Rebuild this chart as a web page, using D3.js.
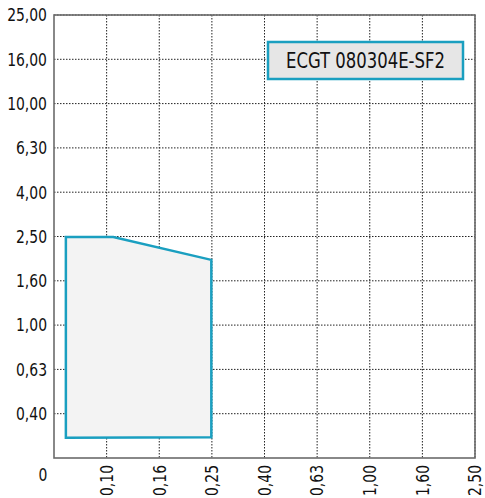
<!DOCTYPE html>
<html><head><meta charset="utf-8">
<script src="https://cdn.jsdelivr.net/npm/d3@7"></script>
<style>html,body{margin:0;padding:0;background:#fff;}svg{display:block;}</style>
</head><body>
<script>
// Data
const xTicks = [0.10, 0.16, 0.25, 0.40, 0.63, 1.00, 1.60, 2.50];
const yTicks = [0.40, 0.63, 1.00, 1.60, 2.50, 4.00, 6.30, 10.00, 16.00, 25.00];
const originLabel = "0";
const regionX = [0.07, 0.106, 0.25, 0.25, 0.07];
const regionY = [2.5, 2.5, 1.97, 0.312, 0.31];
const legendLabel = "ECGT 080304E-SF2";

const W = 485, H = 498;
const m = {left: 54, right: 10, top: 15, bottom: 40};
const svg = d3.select("body").append("svg").attr("width", W).attr("height", H);
const font = "'Liberation Sans Narrow','DejaVu Sans Condensed','Roboto Condensed',sans-serif";

const x = d3.scaleLog().domain([Math.pow(10,-1.2), Math.pow(10,0.4)]).range([m.left, W - m.right]);
const y = d3.scaleLog().domain([Math.pow(10,-0.6), Math.pow(10,1.4)]).range([H - m.bottom, m.top]);
const fmt = v => v.toFixed(2).replace(".", ",");
// snap ticks to nominal log positions (R10 series)
const xp = v => x(Math.pow(10, Math.round(Math.log10(v) * 5) / 5));
const yp = v => y(Math.pow(10, Math.round(Math.log10(v) * 5) / 5));
const squeeze = function() {
  const n = this.getComputedTextLength();
  d3.select(this).attr("textLength", n * 0.86).attr("lengthAdjust", "spacingAndGlyphs");
};

const g = svg.append("g");
// grid
g.selectAll(".vg").data(xTicks).join("line")
  .attr("x1", d => xp(d)).attr("x2", d => xp(d))
  .attr("y1", y.range()[1]).attr("y2", y.range()[0])
  .attr("stroke", "#222").attr("stroke-width", 1).attr("stroke-dasharray", "1.5,1.5");
g.selectAll(".hg").data(yTicks).join("line")
  .attr("y1", d => yp(d)).attr("y2", d => yp(d))
  .attr("x1", x.range()[0]).attr("x2", x.range()[1])
  .attr("stroke", "#222").attr("stroke-width", 1).attr("stroke-dasharray", "1.5,1.5");

// region
const pts = regionX.map((v, i) => [x(v), y(regionY[i])]);
g.append("path").attr("d", d3.line()(pts) + "Z")
  .attr("fill", "#f3f3f3").attr("stroke", "#1a9fc0").attr("stroke-width", 2.5)
  .attr("stroke-linejoin", "miter");

// frame
g.append("rect").attr("x", x.range()[0]).attr("y", y.range()[1])
  .attr("width", x.range()[1] - x.range()[0]).attr("height", y.range()[0] - y.range()[1])
  .attr("fill", "none").attr("stroke", "#6b6b6b").attr("stroke-width", 1.6);

// y labels
g.selectAll(".yl").data(yTicks).join("text")
  .attr("x", 47).attr("y", d => yp(d)).attr("dy", "0.35em")
  .attr("text-anchor", "end").attr("font-family", font).attr("font-size", 18)
  .attr("fill", "#111").text(fmt).each(squeeze);
// x labels rotated
g.selectAll(".xl").data(xTicks).join("text")
  .attr("transform", d => `translate(${xp(d)},${465}) rotate(-90)`)
  .attr("dy", "0.35em").attr("text-anchor", "end")
  .attr("font-family", font).attr("font-size", 18).attr("fill", "#111").text(fmt).each(squeeze);
// origin
g.append("text").attr("x", 43).attr("y", 475).attr("dy", "0.35em")
  .attr("text-anchor", "middle").attr("font-family", font).attr("font-size", 18)
  .attr("fill", "#111").text(originLabel).each(squeeze);

// legend box
g.append("rect").attr("x", 268).attr("y", 42).attr("width", 195).attr("height", 37)
  .attr("fill", "#e6e6e6").attr("stroke", "#1a9fc0").attr("stroke-width", 2.5);
g.append("text").attr("x", 365.5).attr("y", 61).attr("dy", "0.35em")
  .attr("text-anchor", "middle").attr("font-family", font).attr("font-size", 21)
  .attr("fill", "#111").attr("textLength", 159).attr("lengthAdjust", "spacingAndGlyphs")
  .text(legendLabel);
</script>
</body></html>
